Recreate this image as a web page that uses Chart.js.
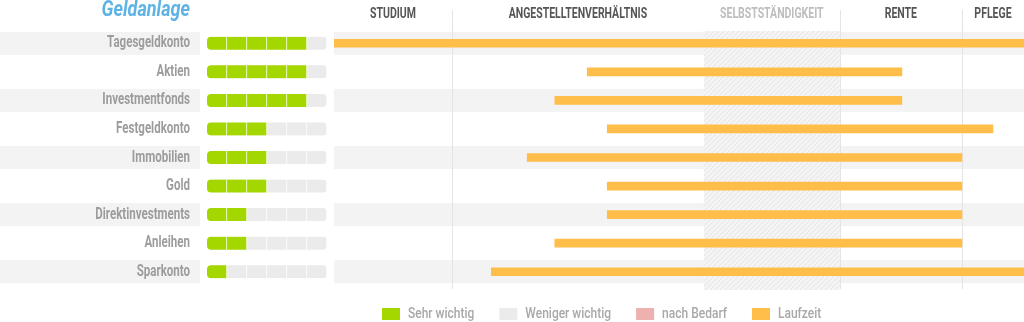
<!DOCTYPE html>
<html lang="de">
<head>
<meta charset="utf-8">
<title>Geldanlage</title>
<script src="https://cdn.jsdelivr.net/npm/chart.js@4.4.1/dist/chart.umd.min.js"></script>
<style>
  html, body { margin: 0; padding: 0; background: #fff; }
  #wrap { position: relative; width: 1024px; height: 322px; overflow: hidden; }
  #timeline, #ratings { position: absolute; left: 0; top: 0; }
</style>
</head>
<body>
<div id="wrap">
  <canvas id="timeline" width="1024" height="322"></canvas>
  <canvas id="ratings" width="334" height="322"></canvas>
</div>
<script>
// ── data ──
const CATEGORIES = ['Tagesgeldkonto', 'Aktien', 'Investmentfonds', 'Festgeldkonto', 'Immobilien',
                    'Gold', 'Direktinvestments', 'Anleihen', 'Sparkonto'];
const RATINGS    = [5, 5, 5, 3, 3, 3, 2, 2, 1];   // out of RATING_STEPS
const RATING_STEPS = 6;

// Laufzeit on a 0–100 life timeline
const RUN_START = [0, 36.7, 32.0, 39.6, 28.0, 39.6, 39.6, 32.0, 22.8];
const RUN_END   = [100, 82.3, 82.3, 95.5, 91.0, 91.0, 91.0, 91.0, 100];

const PHASES       = ['STUDIUM', 'ANGESTELLTENVERHÄLTNIS', 'SELBSTSTÄNDIGKEIT', 'RENTE', 'PFLEGE'];
const PHASE_START  = [0, 17.1, 53.6, 73.3, 91.0];
const PHASE_END    = [17.1, 53.6, 73.3, 91.0, 100];
const PHASE_SHADED = [false, false, true, false, false];

const TITLE = 'Geldanlage';
const LEGEND_LABELS = ['Sehr wichtig', 'Weniger wichtig', 'nach Bedarf', 'Laufzeit'];

// ── styles ──
const FONT   = "Roboto, 'Liberation Sans', sans-serif";
const NARROW = 0.72;            // horizontal squeeze for the condensed look
const GREEN  = '#a4d600';
const GREY   = '#ebebeb';
const PINK   = '#efb0b0';
const ORANGE = '#ffbd4a';
const STRIPE = '#f3f3f3';
const LEGEND_COLORS = [GREEN, GREY, PINK, ORANGE];
const PAD = { top: 29, bottom: 36 };

// draws squeezed text, returns its drawn width
function narrowText(ctx, text, x, y, o) {
  const sx = o.sx || NARROW;
  ctx.save();
  ctx.font = `${o.style || ''} ${o.weight || 'bold'} ${o.size}px ${FONT}`;
  ctx.fillStyle = o.color;
  ctx.textAlign = o.align || 'left';
  ctx.textBaseline = 'middle';
  ctx.translate(x, y);
  ctx.scale(sx, 1);
  ctx.fillText(text, 0, 0);
  const w = ctx.measureText(text).width * sx;
  ctx.restore();
  return w;
}

function stripeRows(chart, x0, x1) {
  const { ctx } = chart;
  const y = chart.scales.y;
  ctx.save();
  ctx.fillStyle = STRIPE;
  CATEGORIES.forEach((_, i) => {
    if (i % 2) return;
    const cy = y.getPixelForValue(i);
    ctx.fillRect(x0, cy - 11.5, x1 - x0, 23);
  });
  ctx.restore();
}

function hatchPattern(ctx) {
  const c = document.createElement('canvas');
  c.width = 5; c.height = 5;
  const p = c.getContext('2d');
  p.fillStyle = '#f4f4f4';
  p.fillRect(0, 0, 5, 5);
  p.strokeStyle = '#e4e4e4';
  p.lineWidth = 1;
  p.beginPath();
  p.moveTo(0, 5); p.lineTo(5, 0);
  p.moveTo(-2.5, 2.5); p.lineTo(2.5, -2.5);
  p.moveTo(2.5, 7.5); p.lineTo(7.5, 2.5);
  p.stroke();
  return ctx.createPattern(c, 'repeat');
}

// ── timeline backdrop: stripes, shaded phase, dividers, phase headers ──
const timelineBackdrop = {
  id: 'timelineBackdrop',
  beforeDatasetsDraw(chart) {
    const { ctx, chartArea } = chart;
    const x = chart.scales.x;
    stripeRows(chart, chartArea.left, chartArea.right);

    ctx.save();
    PHASES.forEach((name, i) => {
      const x0 = x.getPixelForValue(PHASE_START[i]);
      const x1 = x.getPixelForValue(PHASE_END[i]);
      if (PHASE_SHADED[i]) {
        ctx.fillStyle = hatchPattern(ctx);
        ctx.fillRect(x0, chartArea.top + 2, x1 - x0, chartArea.bottom - chartArea.top + 2);
      } else if (i > 0) {
        ctx.strokeStyle = '#e4e4e4';
        ctx.lineWidth = 1;
        ctx.beginPath();
        ctx.moveTo(Math.round(x0) + 0.5, 10);
        ctx.lineTo(Math.round(x0) + 0.5, chartArea.bottom + 3);
        ctx.stroke();
      }
      narrowText(ctx, name, (x0 + x1) / 2, 14, {
        size: 15, align: 'center', color: PHASE_SHADED[i] ? '#bdbdbd' : '#555', sx: 0.7,
      });
    });
    ctx.restore();
  },
  afterDraw(chart) {
    // legend row under the chart
    const { ctx } = chart;
    let cx = 382;
    LEGEND_LABELS.forEach((label, i) => {
      ctx.fillStyle = LEGEND_COLORS[i];
      ctx.fillRect(cx, 308, 18, 12);
      const w = narrowText(ctx, label, cx + 26, 314, { size: 15, weight: '500', color: '#a8a8a8', sx: 0.8 });
      cx += 26 + w + 25;
    });
  },
};

// ── meter backdrop: stripes, row labels, title ──
const ratingsBackdrop = {
  id: 'ratingsBackdrop',
  beforeDraw(chart) {
    const { ctx } = chart;
    const y = chart.scales.y;
    stripeRows(chart, 0, 200);
    CATEGORIES.forEach((name, i) => {
      narrowText(ctx, name, 190, y.getPixelForValue(i), { size: 16, align: 'right', color: '#9c9c9c' });
    });
    narrowText(ctx, TITLE, 190, 10, { size: 22, style: 'italic', align: 'right', color: '#5fb3e4', sx: 0.82 });
  },
};

// ── Laufzeit bars ──
new Chart(document.getElementById('timeline'), {
  type: 'bar',
  data: {
    labels: CATEGORIES,
    datasets: [{
      label: 'Laufzeit',
      data: RUN_START.map((s, i) => [s, RUN_END[i]]),
      backgroundColor: ORANGE,
      borderSkipped: false,
      barThickness: 8,
    }],
  },
  options: {
    indexAxis: 'y',
    responsive: false,
    animation: false,
    layout: { padding: { left: 334, right: 0, top: PAD.top, bottom: PAD.bottom } },
    plugins: { legend: { display: false }, tooltip: { enabled: false } },
    scales: {
      x: { min: 0, max: 100, display: false },
      y: { display: false },
    },
  },
  plugins: [timelineBackdrop],
});

// ── importance meters ──
new Chart(document.getElementById('ratings'), {
  type: 'bar',
  data: {
    labels: CATEGORIES,
    datasets: Array.from({ length: RATING_STEPS }, (_, k) => ({
      data: RATINGS.map(() => 1),
      backgroundColor: RATINGS.map(r => (k < r ? GREEN : GREY)),
      borderColor: '#fff',
      borderWidth: { right: 1 },
      borderSkipped: false,
      borderRadius: k === 0 ? { topLeft: 4, bottomLeft: 4 }
                  : k === RATING_STEPS - 1 ? { topRight: 4, bottomRight: 4 } : 0,
      barThickness: 13,
    })),
  },
  options: {
    indexAxis: 'y',
    responsive: false,
    animation: false,
    layout: { padding: { left: 0, right: 7, top: PAD.top, bottom: PAD.bottom } },
    plugins: { legend: { display: false }, tooltip: { enabled: false } },
    scales: {
      x: { stacked: true, min: 0, max: RATING_STEPS, display: false },
      y: {
        stacked: true,
        grid: { display: false, drawTicks: false },
        border: { display: false },
        ticks: { display: false },
        afterFit(scale) { scale.width = 207; },
      },
    },
  },
  plugins: [ratingsBackdrop],
});
</script>
</body>
</html>
